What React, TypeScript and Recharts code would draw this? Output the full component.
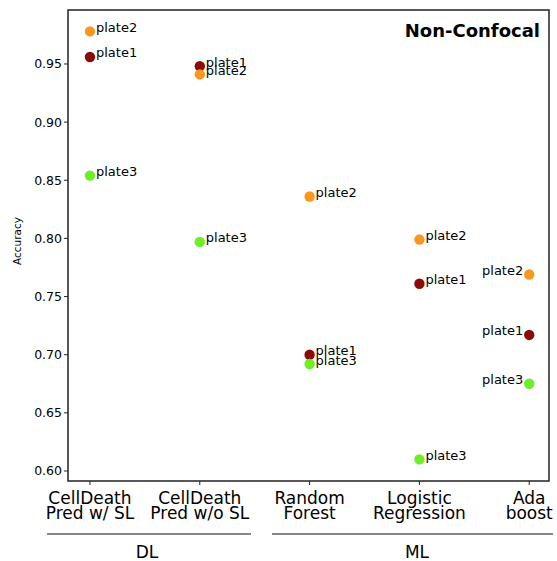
import React from "react"
import {
  ScatterChart,
  Scatter,
  XAxis,
  YAxis,
  ReferenceArea,
} from "recharts"

const methods = [
  "CellDeath\nPred w/ SL",
  "CellDeath\nPred w/o SL",
  "Random\nForest",
  "Logistic\nRegression",
  "Ada\nboost",
]
const plate1 = [0.956, 0.948, 0.7, 0.761, 0.717]
const plate2 = [0.978, 0.941, 0.836, 0.799, 0.769]
const plate3 = [0.854, 0.797, 0.692, 0.61, 0.675]
const yTicks = [0.6, 0.65, 0.7, 0.75, 0.8, 0.85, 0.9, 0.95]

const X_DOMAIN: [number, number] = [-0.2, 4.18]
const Y_DOMAIN: [number, number] = [0.5914, 0.9964]
const FONT = "DejaVu Sans, sans-serif"

const series = [
  { name: "plate1", values: plate1, color: "#8c0a0a" },
  { name: "plate2", values: plate2, color: "#fb961f" },
  { name: "plate3", values: plate3, color: "#6cef24" },
]

const toPoints = (values: number[], name: string) =>
  values.map((v, i) => ({ x: i, y: v, name }))

const Dot = (color: string) => (props: any) => {
  const { cx, cy, payload } = props
  const left = payload.x === methods.length - 1
  return (
    <g>
      <circle cx={cx} cy={cy} r={5.2} fill={color} />
      <text
        x={left ? cx - 6 : cx + 6}
        y={cy - 4}
        textAnchor={left ? "end" : "start"}
        dominantBaseline="central"
        fontSize={13}
        fontFamily={FONT}
        fill="#000"
      >
        {payload.name}
      </text>
    </g>
  )
}

const MethodTick = (props: any) => {
  const { x, y, payload } = props
  const lines = String(methods[payload.value] ?? "").split("\n")
  return (
    <g>
      {lines.map((l, k) => (
        <text
          key={k}
          x={x}
          y={y + 11 + k * 15}
          textAnchor="middle"
          dominantBaseline="central"
          fontSize={17}
          fontFamily={FONT}
          fill="#000"
        >
          {l}
        </text>
      ))}
    </g>
  )
}

export default function App() {
  return (
    <div style={{ position: "absolute", left: 0, top: 0, width: 557, height: 561, background: "#fff" }}>
      <ScatterChart width={557} height={561} margin={{ top: 10, right: 8, bottom: 0, left: 0 }}>
        <XAxis
          type="number"
          dataKey="x"
          domain={X_DOMAIN}
          ticks={[0, 1, 2, 3, 4]}
          interval={0}
          allowDataOverflow
          height={80}
          tick={<MethodTick />}
          tickSize={4}
          axisLine={false}
          tickLine={{ stroke: "#222" }}
        />
        <YAxis
          type="number"
          dataKey="y"
          domain={Y_DOMAIN}
          ticks={yTicks}
          allowDataOverflow
          width={68}
          tickSize={4}
          axisLine={false}
          tickLine={{ stroke: "#222" }}
          tickFormatter={(v: number) => v.toFixed(2)}
          tick={{ fill: "#000", fontSize: 12.5, fontFamily: FONT }}
        />
        <ReferenceArea
          x1={X_DOMAIN[0]}
          x2={X_DOMAIN[1]}
          y1={Y_DOMAIN[0]}
          y2={Y_DOMAIN[1]}
          fill="none"
          stroke="#222"
          strokeWidth={1.5}
          fillOpacity={0}
        />
        {series.map((s) => (
          <Scatter
            key={s.name}
            name={s.name}
            data={toPoints(s.values, s.name)}
            shape={Dot(s.color)}
            isAnimationActive={false}
          />
        ))}
      </ScatterChart>
      <svg
        width={557}
        height={561}
        style={{ position: "absolute", left: 0, top: 0, pointerEvents: "none" }}
      >
        <text x={540} y={30} textAnchor="end" dominantBaseline="central" fontSize={18} fontWeight="bold" fontFamily={FONT} fill="#000">
          Non-Confocal
        </text>
        <text
          x={17}
          y={241}
          transform="rotate(-90 17 241)"
          textAnchor="middle"
          dominantBaseline="central"
          fontSize={10.5}
          fontFamily={FONT}
          fill="#000"
        >
          Accuracy
        </text>
        <line x1={47} x2={251} y1={534} y2={534} stroke="#111" strokeWidth={1.2} />
        <line x1={272} x2={553} y1={534} y2={534} stroke="#111" strokeWidth={1.2} />
        <text x={147} y={552} textAnchor="middle" dominantBaseline="central" fontSize={17} fontFamily={FONT} fill="#000">
          DL
        </text>
        <text x={417} y={552} textAnchor="middle" dominantBaseline="central" fontSize={17} fontFamily={FONT} fill="#000">
          ML
        </text>
      </svg>
    </div>
  )
}
